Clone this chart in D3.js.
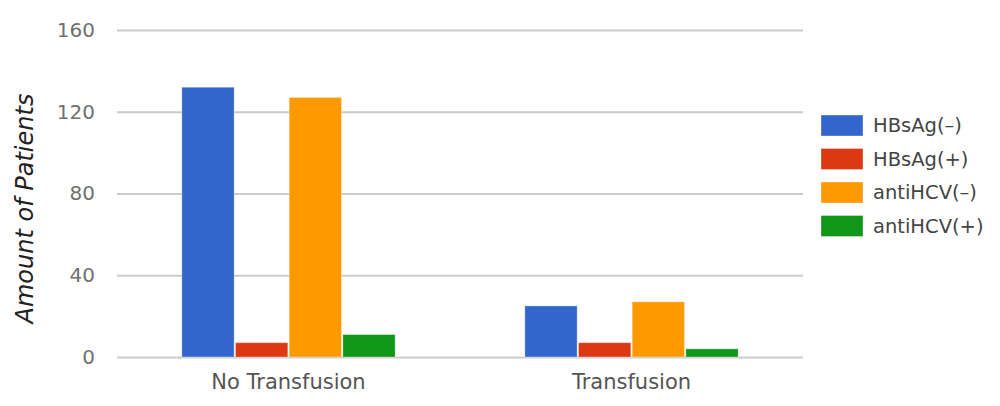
<!DOCTYPE html>
<html><head><meta charset="utf-8">
<script src="https://cdn.jsdelivr.net/npm/d3@7"></script>
<style>body{margin:0;background:#fff}svg{display:block}</style>
</head><body>
<svg id="c" width="1000" height="406"></svg>
<script>
const categories = ["No Transfusion", "Transfusion"];
const seriesNames = ["HBsAg(\u2013)", "HBsAg(+)", "antiHCV(\u2013)", "antiHCV(+)"];
const seriesColors = ["#3366cc", "#dc3912", "#ff9900", "#109618"];
const hbsagNeg = [132, 25];
const hbsagPos = [7, 7];
const antiHcvNeg = [127, 27];
const antiHcvPos = [11, 4];
const yTicks = [0, 40, 80, 120, 160];
const yTitle = "Amount of Patients";

(function () {
const series = [hbsagNeg, hbsagPos, antiHcvNeg, antiHcvPos];
const svg = d3.select("#c");
const font = "'DejaVu Sans', sans-serif";
const pL = 117, pR = 803, pT = 30, pB = 357;

const y = d3.scaleLinear().domain([0, 160]).range([pB, pT]);
const x0 = d3.scaleBand().domain(categories).range([pL, pR]).paddingInner(0.378).paddingOuter(0.189);
const x1 = d3.scaleBand().domain(d3.range(series.length)).range([0, x0.bandwidth()]).paddingInner(0.025);

// grid
const yAxis = d3.axisLeft(y).tickValues(yTicks).tickSize(-(pR - pL)).tickPadding(22);
const g = svg.append("g").attr("transform", `translate(${pL},0)`).call(yAxis);
g.select(".domain").remove();
g.selectAll(".tick line").attr("stroke", "#cccccc").attr("stroke-width", 2);
g.selectAll(".tick text").attr("font-family", font).attr("font-size", 20).attr("fill", "#707070");

// bars
categories.forEach((c, ci) => {
  series.forEach((s, si) => {
    svg.append("rect")
      .attr("x", x0(c) + x1(si))
      .attr("y", y(s[ci]))
      .attr("width", x1.bandwidth())
      .attr("height", y(0) - y(s[ci]))
      .attr("fill", seriesColors[si])
      .attr("stroke", "#ffffff").attr("stroke-opacity", 0.35).attr("stroke-width", 1);
  });
});

// x labels
const xa = svg.append("g").attr("transform", `translate(0,${pB})`)
  .call(d3.axisBottom(x0).tickSize(0).tickPadding(17));
xa.select(".domain").remove();
xa.selectAll("text").attr("font-family", font).attr("font-size", 21).attr("fill", "#555");

// y title
svg.append("text")
  .attr("transform", `translate(33,${(pT + pB) / 2 + 15}) rotate(-90)`)
  .attr("text-anchor", "middle")
  .attr("font-family", font).attr("font-size", 24).attr("font-style", "italic")
  .attr("fill", "#222").text(yTitle);

// legend
const lg = svg.append("g").attr("transform", "translate(821,115)");
seriesNames.forEach((n, i) => {
  const row = lg.append("g").attr("transform", `translate(0,${i * 33.5})`);
  row.append("rect").attr("width", 42).attr("height", 21).attr("fill", seriesColors[i])
    .attr("stroke", "#fff").attr("stroke-opacity", 0.35);
  row.append("text").attr("x", 52).attr("y", 17).attr("font-family", font)
    .attr("font-size", 19.5).attr("fill", "#444").text(n);
});
})();
</script>
</body></html>
